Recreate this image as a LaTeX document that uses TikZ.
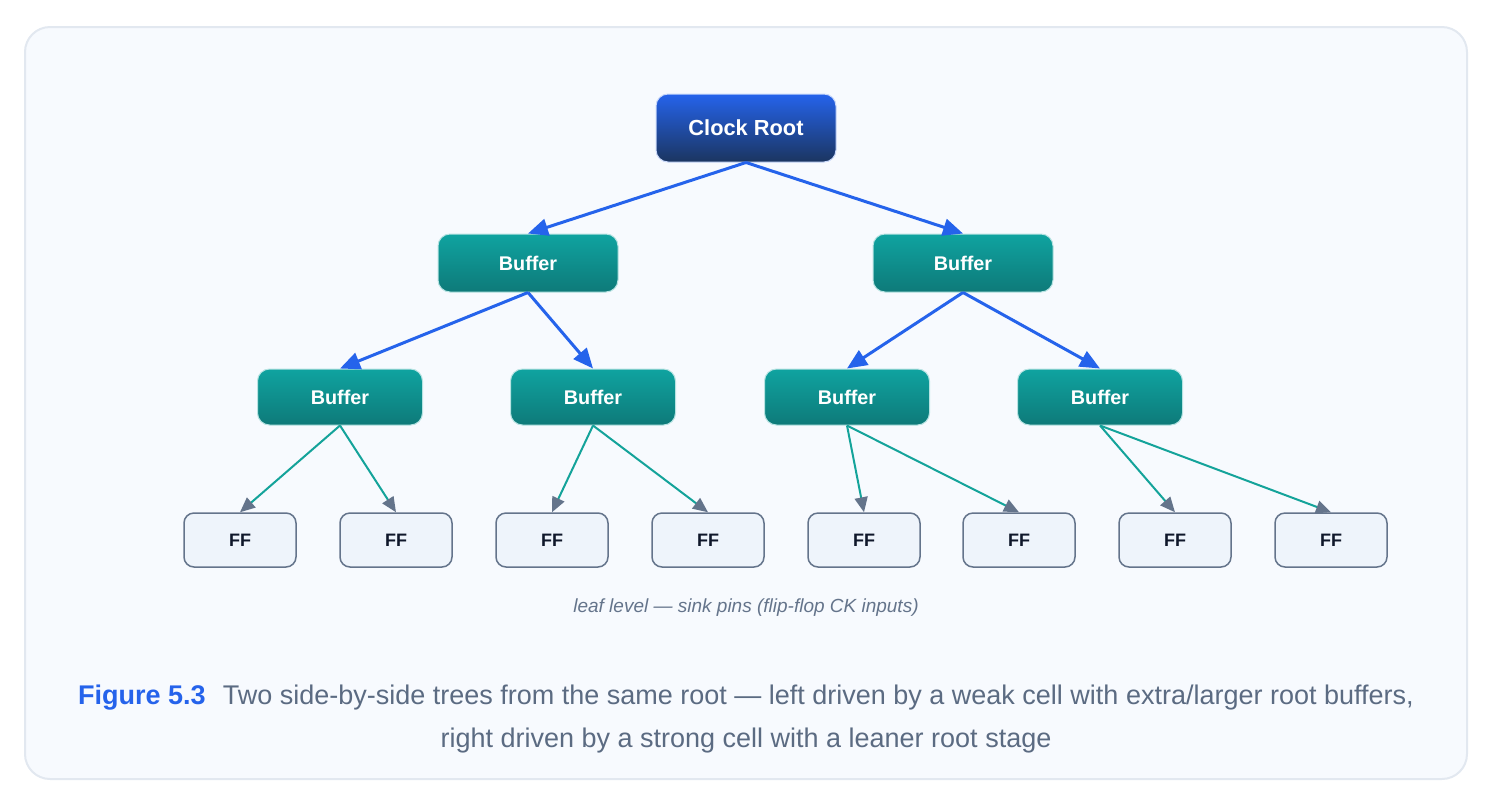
\documentclass[tikz,border=0pt]{standalone}
\usepackage{fontspec}
\setmainfont{Liberation Sans}
\usetikzlibrary{arrows.meta}

\definecolor{panelbg}{HTML}{F7FAFE}
\definecolor{panelline}{HTML}{E2E8F0}
\definecolor{rootTop}{HTML}{2563EB}
\definecolor{rootBot}{HTML}{1B3560}
\definecolor{bufTop}{HTML}{0FA3A0}
\definecolor{bufBot}{HTML}{0E7A79}
\definecolor{ffFill}{HTML}{EEF4FB}
\definecolor{slate}{HTML}{64748B}
\definecolor{ink}{HTML}{0F172A}
\definecolor{wireBlue}{HTML}{2563EB}
\definecolor{wireTeal}{HTML}{14A39A}
\definecolor{capText}{HTML}{5B6B82}

\tikzset{
  rootbox/.style={rounded corners=12pt,top color=rootTop,bottom color=rootBot,draw=white!75!rootTop,line width=1pt,
    minimum width=180pt,minimum height=68pt,text=white,font=\fontsize{21.8}{26}\selectfont\bfseries},
  bufbox/.style={rounded corners=12pt,top color=bufTop,bottom color=bufBot,draw=white!70!bufTop,line width=1pt,
    minimum height=58pt,text=white,font=\fontsize{19.8}{23}\selectfont\bfseries},
  ffbox/.style={rounded corners=10pt,fill=ffFill,draw=slate,line width=1.5pt,
    minimum width=112pt,minimum height=54pt,text=ink,font=\fontsize{18}{22}\selectfont\bfseries},
  bluewire/.style={draw=wireBlue,line width=3pt,-{Triangle[length=20pt,width=17pt,color=wireBlue]}},
  tealwire/.style={draw=wireTeal,line width=2pt,-{Triangle[length=15pt,width=13pt,color=slate]}}
}

\begin{document}
\begin{tikzpicture}[x=1pt,y=-1pt]
\useasboundingbox (0,0) rectangle (1494,807);
\draw[fill=panelbg,draw=panelline,line width=2pt,rounded corners=25pt] (25,27) rectangle (1467,779);

\node[rootbox] (r) at (746,128) {Clock Root};
\node[bufbox,minimum width=180pt] (b1) at (528,263) {Buffer};
\node[bufbox,minimum width=180pt] (b2) at (963,263) {Buffer};
\foreach \n/\x in {1/340,2/593,3/847,4/1100}{
  \node[bufbox,minimum width=165pt,minimum height=56pt] (c\n) at (\x,397) {Buffer};
}
\foreach \n/\x in {1/240,2/396,3/552,4/708,5/864,6/1019,7/1175,8/1331}{
  \node[ffbox] (f\n) at (\x,540) {FF};
}

\draw[bluewire] (r.south) -- (b1.north);
\draw[bluewire] (r.south) -- (b2.north);
\draw[bluewire] (b1.south) -- (c1.north);
\draw[bluewire] (b1.south) -- (c2.north);
\draw[bluewire] (b2.south) -- (c3.north);
\draw[bluewire] (b2.south) -- (c4.north);
\foreach \c/\a/\b in {1/1/2,2/3/4,3/5/6,4/7/8}{
  \draw[tealwire] (c\c.south) -- (f\a.north);
  \draw[tealwire] (c\c.south) -- (f\b.north);
}

\node[text=slate,font=\fontsize{19}{23}\selectfont\itshape] (leaf) at (746,608) {leaf level — sink pins (flip-flop CK inputs)};
\node[text=capText,align=center,font=\fontsize{27}{43}\selectfont] (cap) at (746,719)
  {{\color{wireBlue}\bfseries Figure 5.3}\hspace{17pt}Two side-by-side trees from the same root — left driven by a weak cell with extra/larger root buffers,\\
   right driven by a strong cell with a leaner root stage};
\end{tikzpicture}
\end{document}
